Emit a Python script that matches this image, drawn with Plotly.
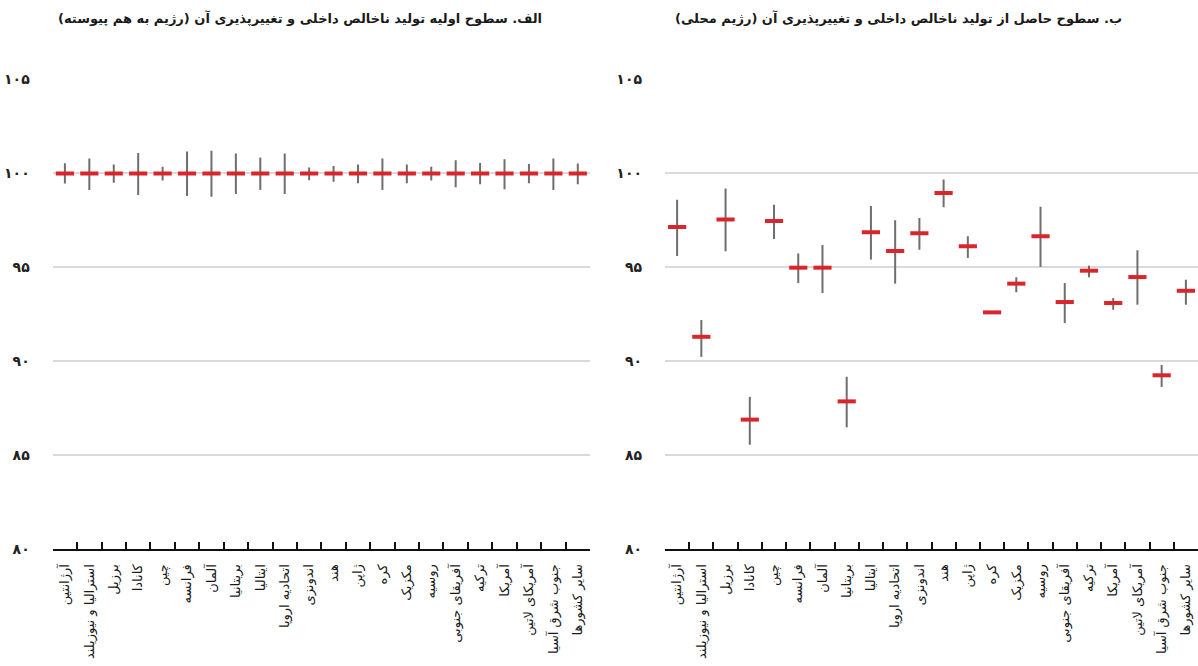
import plotly.graph_objects as go

RLM = "\u200f"

categories = [
    "آرژانتین", "استرالیا و نیوزیلند", "برزیل", "کانادا", "چین", "فرانسه",
    "آلمان", "بریتانیا", "ایتالیا", "اتحادیه اروپا", "اندونزی", "هند",
    "ژاپن", "کره", "مکزیک", "روسیه", "آفریقای جنوبی", "ترکیه", "آمریکا",
    "آمریکای لاتین", "جنوب شرق آسیا", "سایر کشورها",
]

# Panel A: initial GDP levels (pooled regime)
left_mean = [100] * 22
left_hi = [100.54, 100.8, 100.48, 101.08, 100.35, 101.16, 101.2, 101.06, 100.85, 101.06, 100.32,
           100.4, 100.47, 100.8, 100.47, 100.35, 100.7, 100.56, 100.76, 100.5, 100.8, 100.53]
left_lo = [99.46, 99.12, 99.5, 98.85, 99.62, 98.8, 98.76, 98.9, 99.12, 98.9, 99.64,
           99.55, 99.48, 99.12, 99.48, 99.62, 99.26, 99.42, 99.16, 99.47, 99.12, 99.42]

# Panel B: resulting GDP levels (local regime)
right_mean = [97.15, 91.3, 97.54, 86.89, 97.46, 94.98, 94.98, 87.86, 96.87, 95.87, 96.81,
              98.95, 96.12, 92.6, 94.13, 96.65, 93.15, 94.82, 93.1, 94.48, 89.25, 93.75]
right_hi = [98.6, 92.19, 99.2, 88.1, 98.33, 95.73, 96.19, 89.17, 98.26, 97.51, 97.63,
            99.68, 96.65, 92.65, 94.47, 98.22, 94.16, 95.09, 93.36, 95.91, 89.8, 94.34]
right_lo = [95.6, 90.23, 95.85, 85.55, 96.51, 94.16, 93.63, 86.48, 95.41, 94.13, 95.94,
            98.2, 95.5, 92.55, 93.67, 95.02, 92.03, 94.47, 92.74, 93.01, 88.63, 93.01]

y_ticks = [80, 85, 90, 95, 100, 105]
y_tick_labels = ["۸۰", "۸۵", "۹۰", "۹۵", "۱۰۰", "۱۰۵"]

titles = [
    "الف. سطوح اولیه تولید ناخالص داخلی و تغییرپذیری آن (رژیم به هم پیوسته)",
    "ب. سطوح حاصل از تولید ناخالص داخلی و تغییرپذیری آن (رژیم محلی)",
]

RED = "#d9262c"
GRAY = "#6e6e6e"
FONT = "DejaVu Sans"
W, H = 1198, 666

fig = go.Figure()


def add_panel(mean, hi, lo, xa, ya):
    fig.add_trace(go.Scatter(
        x=categories, y=mean, mode="markers", xaxis=xa, yaxis=ya,
        marker=dict(symbol="line-ew", size=13, color=RED,
                    line=dict(color=RED, width=4)),
        error_y=dict(type="data", symmetric=False,
                     array=[h - m for h, m in zip(hi, mean)],
                     arrayminus=[m - l for m, l in zip(mean, lo)],
                     color=GRAY, thickness=2, width=0),
        showlegend=False, hoverinfo="skip",
    ))


add_panel(left_mean, left_hi, left_lo, "x", "y")
add_panel(right_mean, right_hi, right_lo, "x2", "y2")

y_bottom = (H - 549) / H
y_top = (H - 79.5) / H

xaxis_common = dict(
    type="category", tickson="boundaries", ticks="inside", ticklen=7,
    tickwidth=2, tickcolor="#111", showline=True, linecolor="#111", linewidth=2,
    showgrid=False, tickangle=-90, ticklabelstandoff=8,
    tickfont=dict(family=FONT, size=13, color="#1a1a1a"),
    automargin=False, range=[-0.5, 21.5],
)
yaxis_common = dict(
    range=[80, 105], tickvals=y_ticks, ticktext=y_tick_labels,
    showgrid=True, gridcolor="#dadada", gridwidth=2, zeroline=False,
    showline=False, ticks="", ticklabelstandoff=22,
    tickfont=dict(family=FONT, size=14, color="#222", weight="bold"),
    automargin=False, domain=[y_bottom, y_top],
)


def title_annotation(text, px_x, px_y):
    return dict(text=RLM + text + RLM, x=px_x / W, y=1 - px_y / H,
                xref="paper", yref="paper", xanchor="center", yanchor="middle",
                showarrow=False,
                font=dict(family=FONT, size=13, color="#1a1a1a", weight="bold"))


fig.update_layout(
    width=W, height=H,
    margin=dict(l=0, r=0, t=0, b=0),
    paper_bgcolor="white", plot_bgcolor="white",
    xaxis=dict(domain=[52.7 / W, 590 / W], anchor="y", **xaxis_common),
    xaxis2=dict(domain=[665 / W, 1.0], anchor="y2", **xaxis_common),
    yaxis=dict(anchor="x", **yaxis_common),
    yaxis2=dict(anchor="x2", **yaxis_common),
    annotations=[
        title_annotation(titles[0], 300, 18),
        title_annotation(titles[1], 898, 18),
    ],
)

fig.write_html("out.html")
